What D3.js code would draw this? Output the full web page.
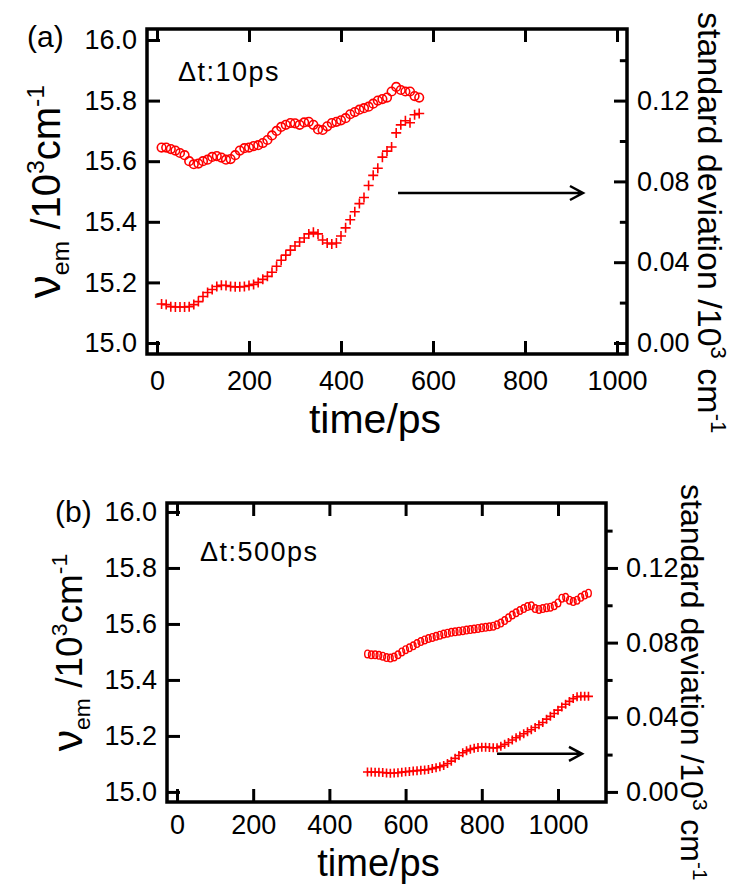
<!DOCTYPE html>
<html>
<head>
<meta charset="utf-8">
<script src="https://cdn.jsdelivr.net/npm/d3@7/dist/d3.min.js"></script>
<style>
  body { margin: 0; background: #fff; }
  svg text { font-family: "Liberation Sans", Arial, sans-serif; fill: #000; }
</style>
</head>
<body>
<svg id="chart" width="747" height="885"></svg>
<script>
// ---- data ----
// panel (a), dt = 10 ps
const timeA = [10, 20, 30, 40, 50, 60, 70, 80, 90, 100,
  110, 120, 130, 140, 150, 160, 170, 180, 190, 200,
  210, 220, 230, 240, 250, 260, 270, 280, 290, 300,
  310, 320, 330, 340, 350, 360, 370, 380, 390, 400,
  410, 420, 430, 440, 450, 460, 470, 480, 490, 500,
  510, 520, 530, 540, 550, 560, 570];
const nuA = [15.645, 15.645, 15.64, 15.635, 15.627, 15.62, 15.60, 15.59, 15.592, 15.60,
  15.605, 15.614, 15.617, 15.612, 15.605, 15.607, 15.62, 15.635, 15.643, 15.645,
  15.65, 15.653, 15.66, 15.67, 15.685, 15.70, 15.713, 15.72, 15.726, 15.725,
  15.72, 15.728, 15.73, 15.72, 15.705, 15.703, 15.715, 15.726, 15.73, 15.735,
  15.742, 15.755, 15.762, 15.77, 15.775, 15.78, 15.79, 15.80, 15.805, 15.81,
  15.83, 15.845, 15.835, 15.83, 15.83, 15.815, 15.81];
const sdA = [0.0193, 0.019, 0.018, 0.0178, 0.0178, 0.0178, 0.018, 0.019, 0.0205, 0.023,
  0.025, 0.0265, 0.028, 0.0286, 0.0285, 0.028, 0.0278, 0.0278, 0.028, 0.0285,
  0.029, 0.030, 0.0315, 0.033, 0.035, 0.038, 0.041, 0.0435, 0.046, 0.048,
  0.050, 0.052, 0.054, 0.0548, 0.054, 0.051, 0.0495, 0.049, 0.0495, 0.053,
  0.057, 0.061, 0.065, 0.069, 0.072, 0.078, 0.083, 0.0865, 0.092, 0.095,
  0.097, 0.104, 0.108, 0.110, 0.109, 0.113, 0.1136];

// panel (b), dt = 500 ps
const timeB = [500, 510, 520, 530, 540, 550, 560, 570, 580, 590,
  600, 610, 620, 630, 640, 650, 660, 670, 680, 690,
  700, 710, 720, 730, 740, 750, 760, 770, 780, 790,
  800, 810, 820, 830, 840, 850, 860, 870, 880, 890,
  900, 910, 920, 930, 940, 950, 960, 970, 980, 990,
  1000, 1010, 1020, 1030, 1040, 1050, 1060, 1070, 1080];
const nuB = [15.493, 15.49, 15.49, 15.488, 15.485, 15.48, 15.478, 15.482, 15.49, 15.50,
  15.508, 15.515, 15.522, 15.53, 15.537, 15.543, 15.548, 15.552, 15.556, 15.56,
  15.564, 15.567, 15.57, 15.572, 15.574, 15.576, 15.578, 15.58, 15.582, 15.584,
  15.586, 15.588, 15.59, 15.592, 15.597, 15.603, 15.612, 15.622, 15.632, 15.64,
  15.648, 15.655, 15.662, 15.665, 15.655, 15.652, 15.655, 15.658, 15.66, 15.665,
  15.675, 15.692, 15.695, 15.685, 15.68, 15.685, 15.695, 15.703, 15.71];
const sdB = [0.0107, 0.0107, 0.0106, 0.0105, 0.0104, 0.0102, 0.0100, 0.0101, 0.0103, 0.0106,
  0.0108, 0.011, 0.0112, 0.0114, 0.0116, 0.0118, 0.012, 0.0125, 0.013, 0.0135,
  0.0142, 0.0152, 0.0165, 0.018, 0.0195, 0.021, 0.022, 0.0228, 0.0234, 0.0238,
  0.024, 0.024, 0.0238, 0.0236, 0.0237, 0.0245, 0.0255, 0.0265, 0.0278, 0.029,
  0.030, 0.0312, 0.0322, 0.0333, 0.0345, 0.036, 0.0372, 0.039, 0.0405, 0.042,
  0.0438, 0.0455, 0.047, 0.0485, 0.050, 0.051, 0.0512, 0.0512, 0.0512];

// tick values
const timeTicks = [0, 200, 400, 600, 800, 1000];
const nuTicks = [15.0, 15.2, 15.4, 15.6, 15.8, 16.0];
const sdTicks = [0.00, 0.04, 0.08, 0.12];
const sdMinorTicks = [0.02, 0.06, 0.10, 0.14];

// arrows pointing at the right axis: [t0, t1, nu]
const arrowA = [524, 926, 15.495];
const arrowB = [840, 1063, 15.136];

const svg = d3.select('#chart');

/** draw one panel */
function drawPanel(p) {
  const g = svg.append('g');
  const x = d3.scaleLinear().domain(p.xDomain).range([p.left, p.right]);
  const yL = d3.scaleLinear().domain(p.yDomain).range([p.bottom, p.top]);
  // right axis is tied to the left one: 0 <-> 15.0, 0.12 <-> 15.8
  const yR = d3.scaleLinear()
      .domain(p.yDomain.map((v) => (v - 15) * 0.15))
      .range([p.bottom, p.top]);

  const tickFont = (sel) => sel.selectAll('text')
      .attr('font-size', 27)
      .attr('font-family', '"Liberation Sans", Arial, sans-serif')
      .attr('fill', '#000');
  const tidy = (sel) => {
    sel.select('.domain').remove();
    sel.selectAll('line').attr('stroke', '#000').attr('stroke-width', 3);
  };

  g.append('g')
      .attr('transform', `translate(0,${p.bottom})`)
      .call(d3.axisBottom(x).tickValues(timeTicks).tickSize(-13)
          .tickSizeOuter(0).tickPadding(p.bPad).tickFormat(d3.format('d')))
      .call(tidy).call(tickFont);
  g.append('g')
      .attr('transform', `translate(0,${p.top})`)
      .call(d3.axisTop(x).tickValues(timeTicks).tickSize(-13)
          .tickSizeOuter(0).tickFormat(''))
      .call(tidy);
  g.append('g')
      .attr('transform', `translate(${p.left},0)`)
      .call(d3.axisLeft(yL).tickValues(nuTicks).tickSize(-13)
          .tickSizeOuter(0).tickPadding(10).tickFormat(d3.format('.1f')))
      .call(tidy).call(tickFont);
  g.append('g')
      .attr('transform', `translate(${p.right},0)`)
      .call(d3.axisRight(yR).tickValues(sdTicks).tickSize(p.rTick)
          .tickSizeOuter(0).tickPadding(p.rPad).tickFormat(d3.format('.2f')))
      .call(tidy).call(tickFont);
  g.append('g')
      .attr('transform', `translate(${p.right},0)`)
      .call(d3.axisRight(yR).tickValues(sdMinorTicks).tickSize(p.rTick * 0.55)
          .tickSizeOuter(0).tickFormat(''))
      .call(tidy);

  // frame
  g.append('rect')
      .attr('x', p.left).attr('y', p.top)
      .attr('width', p.right - p.left).attr('height', p.bottom - p.top)
      .attr('fill', 'none').attr('stroke', '#000').attr('stroke-width', 3.5);

  // std dev crosses (right axis)
  const c = p.cross;
  g.append('g')
      .attr('stroke', '#ff0000').attr('stroke-width', 1.6).attr('fill', 'none')
      .selectAll('path')
      .data(p.time.map((t, i) => [t, p.sd[i]]))
      .join('path')
      .attr('d', (d) => `M${x(d[0]) - c},${yR(d[1])}h${2 * c}` +
        `M${x(d[0])},${yR(d[1]) - c}v${2 * c}`);

  // emission frequency circles (left axis)
  g.append('g')
      .attr('stroke', '#ff0000').attr('stroke-width', p.cw).attr('fill', 'none')
      .selectAll('ellipse')
      .data(p.time.map((t, i) => [t, p.nu[i]]))
      .join('ellipse')
      .attr('cx', (d) => x(d[0])).attr('cy', (d) => yL(d[1]))
      .attr('rx', p.rx).attr('ry', p.ry);

  // arrow to the right axis
  const ax0 = x(p.arrow[0]);
  const ax1 = x(p.arrow[1]);
  const ay = yL(p.arrow[2]);
  g.append('path')
      .attr('d', `M${ax0},${ay}H${ax1}M${ax1 - 13},${ay - 7}L${ax1},${ay}L${ax1 - 13},${ay + 7}`)
      .attr('fill', 'none').attr('stroke', '#000').attr('stroke-width', 2.5);

  // panel label and dt note
  g.append('text').attr('x', p.labelX).attr('y', p.labelY)
      .attr('font-size', 30).text(p.label);
  g.append('text').attr('x', p.noteX).attr('y', p.noteY)
      .attr('font-size', 27).attr('letter-spacing', 1.5).text(p.note);

  // x title
  g.append('text')
      .attr('x', (p.left + p.right) / 2 + p.xtDx).attr('y', p.xtY)
      .attr('text-anchor', 'middle').attr('font-size', p.xtSize).text('time/ps');

  // left title
  const lt = g.append('text')
      .attr('transform', `translate(${p.ltX},${(p.top + p.bottom) / 2}) rotate(-90)`)
      .attr('text-anchor', 'middle').attr('font-size', p.ltSize);
  lt.append('tspan').attr('font-size', p.ltSize * 1.15).text('ν');
  lt.append('tspan').attr('font-size', p.ltSize * 0.62).attr('dy', p.ltSize * 0.22).text('em');
  lt.append('tspan').attr('dy', -p.ltSize * 0.22).text(' /10');
  lt.append('tspan').attr('font-size', p.ltSize * 0.62).attr('dy', -p.ltSize * 0.4).text('3');
  lt.append('tspan').attr('dy', p.ltSize * 0.4).text('cm');
  lt.append('tspan').attr('font-size', p.ltSize * 0.62).attr('dy', -p.ltSize * 0.4).text('-1');

  // right title
  const rt = g.append('text')
      .attr('transform', `translate(${p.rtX},${p.rtY}) rotate(90)`)
      .attr('font-size', p.rtSize);
  rt.append('tspan').text('standard deviation /10');
  rt.append('tspan').attr('font-size', p.rtSize * 0.65).attr('dy', -p.rtSize * 0.38).text('3');
  rt.append('tspan').attr('dy', p.rtSize * 0.38).text(' cm');
  rt.append('tspan').attr('font-size', p.rtSize * 0.65).attr('dy', -p.rtSize * 0.38).text('-1');
}

drawPanel({
  left: 147, right: 627, top: 29, bottom: 354,
  xDomain: [-21.7, 1021.7], yDomain: [14.9637, 16.0363],
  rTick: -13, rPad: 10, bPad: 17,
  time: timeA, nu: nuA, sd: sdA,
  cross: 5, rx: 4.3, ry: 4.3, cw: 1.6,
  arrow: arrowA,
  label: '(a)', labelX: 27, labelY: 47,
  note: 'Δt:10ps', noteX: 178, noteY: 81,
  xtDx: -12, xtY: 433, xtSize: 41,
  ltX: 60, ltSize: 40,
  rtX: 698, rtY: 12, rtSize: 34,
});

drawPanel({
  left: 167, right: 606, top: 503, bottom: 802,
  xDomain: [-26.2, 1126], yDomain: [14.964, 16.032],
  rTick: 12, rPad: 8, bPad: 13,
  time: timeB, nu: nuB, sd: sdB,
  cross: 4.5, rx: 2.8, ry: 3.8, cw: 1.4,
  arrow: arrowB,
  label: '(b)', labelX: 55, labelY: 522,
  note: 'Δt:500ps', noteX: 200, noteY: 561,
  xtDx: -8, xtY: 876, xtSize: 38,
  ltX: 82, ltSize: 37,
  rtX: 681, rtY: 484, rtSize: 32,
});
</script>
</body>
</html>
